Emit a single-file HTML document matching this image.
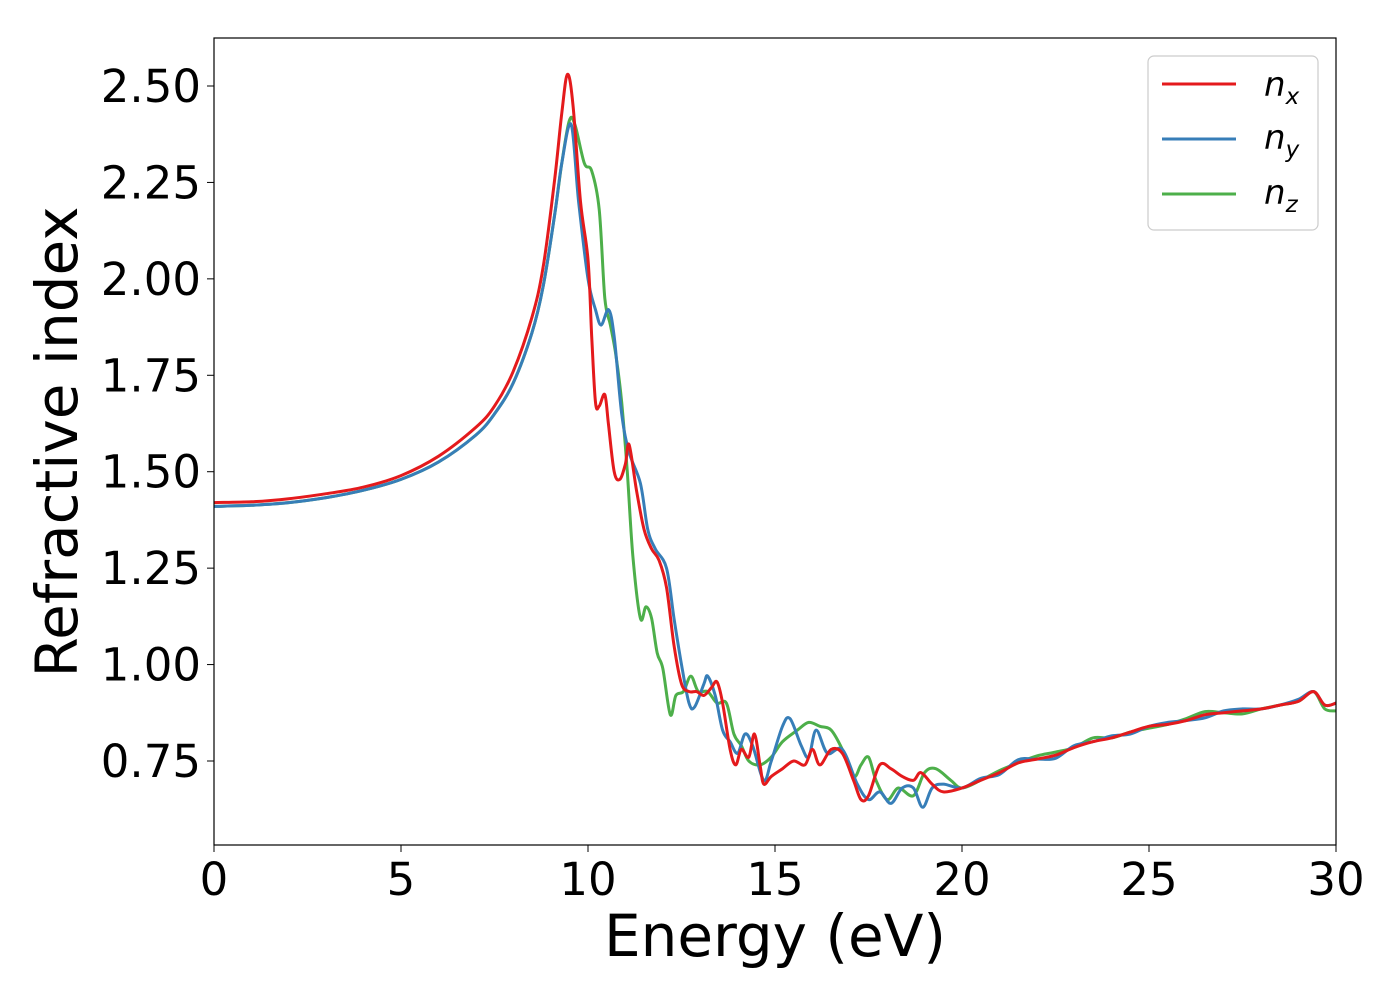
<!DOCTYPE html>
<html><head><meta charset="utf-8"><style>
html,body{margin:0;padding:0;background:#fff;}
svg text{font-family:"DejaVu Sans","Liberation Sans",sans-serif;}
</style></head><body>
<svg width="1400" height="1000" viewBox="0 0 1400 1000" xmlns="http://www.w3.org/2000/svg">
<g id="plot"></g>
<rect x="214" y="38" width="1122" height="807" fill="none" stroke="#000" stroke-width="1.2"/>
<g id="ticks"></g>
<text x="775" y="956" font-size="58" text-anchor="middle">Energy (eV)</text>
<text transform="translate(77,442) rotate(-90)" font-size="58" text-anchor="middle">Refractive index</text>
<g>
<rect x="1148" y="56" width="170" height="174" rx="6" fill="#fff" stroke="#ccc" stroke-width="1.2"/>
<line x1="1162" y1="84" x2="1236" y2="84" stroke="#e41a1c" stroke-width="3"/>
<text x="1264" y="96" font-size="34" font-style="italic">n<tspan font-size="23" dy="8">x</tspan></text>
<line x1="1162" y1="139" x2="1236" y2="139" stroke="#377eb8" stroke-width="3"/>
<text x="1264" y="149" font-size="34" font-style="italic">n<tspan font-size="23" dy="8">y</tspan></text>
<line x1="1162" y1="194" x2="1236" y2="194" stroke="#4daf4a" stroke-width="3"/>
<text x="1264" y="204" font-size="34" font-style="italic">n<tspan font-size="23" dy="8">z</tspan></text>
</g>
</svg>
<script>
const xTicks=[0,5,10,15,20,25,30];
const yTicks=[0.75,1.00,1.25,1.50,1.75,2.00,2.25,2.50];
const baseE=[0,1,2,3,4,5,6,7,7.5,8,8.5,8.8,9.1,9.3];
const nxBase=[1.42,1.422,1.43,1.443,1.46,1.49,1.54,1.615,1.67,1.76,1.90,2.03,2.25,2.43];
const nyzBase=[1.41,1.413,1.42,1.433,1.452,1.48,1.525,1.595,1.65,1.73,1.86,1.98,2.16,2.30];
const tailE=[20.5,21,21.5,22,22.5,23,23.5,24,24.5,25,25.5,26,26.5,27,27.5,28,28.5,29,29.4,29.7,30];
const tailV=[0.70,0.72,0.745,0.755,0.765,0.785,0.80,0.81,0.825,0.84,0.845,0.855,0.87,0.875,0.88,0.885,0.895,0.905,0.93,0.895,0.90];
const nxE=[9.45,9.6,9.8,10,10.1,10.2,10.3,10.45,10.55,10.7,10.85,11.0,11.1,11.3,11.5,11.7,11.9,12.1,12.3,12.5,12.7,12.9,13.1,13.3,13.45,13.6,13.8,13.95,14.1,14.3,14.45,14.6,14.7,14.9,15.2,15.5,15.8,16.0,16.2,16.5,16.8,17.1,17.3,17.5,17.8,18.1,18.4,18.7,18.9,19.2,19.5,20];
const nxV=[2.53,2.45,2.2,2.05,1.85,1.68,1.67,1.70,1.62,1.50,1.48,1.52,1.57,1.45,1.35,1.30,1.27,1.2,1.05,0.95,0.93,0.93,0.92,0.94,0.955,0.9,0.78,0.74,0.78,0.76,0.82,0.74,0.69,0.71,0.73,0.75,0.74,0.78,0.74,0.78,0.77,0.70,0.65,0.66,0.74,0.73,0.71,0.70,0.72,0.69,0.67,0.68];
const nyE=[9.55,9.75,10,10.2,10.35,10.55,10.7,10.9,11.1,11.4,11.6,11.8,12.1,12.3,12.5,12.7,12.85,13.1,13.2,13.4,13.6,13.8,14.0,14.2,14.4,14.7,14.9,15.2,15.4,15.7,15.9,16.1,16.4,16.8,17.2,17.5,17.8,18.1,18.4,18.7,18.95,19.2,19.5,20];
const nyV=[2.40,2.2,2.0,1.92,1.88,1.92,1.85,1.65,1.55,1.47,1.35,1.30,1.25,1.12,1.0,0.90,0.89,0.95,0.97,0.92,0.83,0.80,0.77,0.82,0.79,0.70,0.75,0.84,0.86,0.79,0.76,0.83,0.77,0.78,0.69,0.65,0.67,0.64,0.68,0.68,0.63,0.68,0.69,0.68];
const nzE=[9.5,9.65,9.9,10.1,10.3,10.45,10.6,10.75,10.9,11.05,11.2,11.4,11.55,11.7,11.85,12.0,12.2,12.35,12.55,12.75,12.95,13.2,13.45,13.7,13.9,14.1,14.3,14.6,14.9,15.2,15.6,15.9,16.2,16.5,16.8,17.1,17.3,17.5,17.7,18.0,18.3,18.7,19.0,19.3,19.7,20];
const nzV=[2.41,2.40,2.30,2.28,2.18,1.95,1.88,1.80,1.68,1.50,1.28,1.12,1.15,1.12,1.03,0.99,0.87,0.92,0.93,0.97,0.93,0.93,0.90,0.90,0.82,0.79,0.75,0.74,0.76,0.80,0.83,0.85,0.84,0.83,0.78,0.71,0.74,0.76,0.70,0.65,0.68,0.66,0.72,0.73,0.70,0.68];
const nyTailOffset=[0.005,-0.005,0.008,0,-0.008,0.005,0,0.005,-0.005,0,0.005,0,-0.008,0.005,0.005,0,0,0.005,0,0,0];
const nzTailOffset=[0,0.005,0,0.008,0.008,0,0.01,0,0,-0.005,0,0.005,0.008,0,-0.008,0,0,0,0,-0.01,-0.02];

const X=e=>214+e*(1122/30);
const Y=v=>761-(v-0.75)*(675/1.75);
const NS='http://www.w3.org/2000/svg';
function pathFrom(E,V){
  const p=E.map((e,i)=>[X(e),Y(V[i])]);
  let d='M'+p[0][0].toFixed(1)+','+p[0][1].toFixed(1);
  for(let i=0;i<p.length-1;i++){
    const p0=p[Math.max(0,i-1)],p1=p[i],p2=p[i+1],p3=p[Math.min(p.length-1,i+2)];
    const c1=[p1[0]+(p2[0]-p0[0])/6,p1[1]+(p2[1]-p0[1])/6];
    const c2=[p2[0]-(p3[0]-p1[0])/6,p2[1]-(p3[1]-p1[1])/6];
    d+=' C'+c1[0].toFixed(1)+','+c1[1].toFixed(1)+' '+c2[0].toFixed(1)+','+c2[1].toFixed(1)+' '+p2[0].toFixed(1)+','+p2[1].toFixed(1);
  }
  return d;
}
const plot=document.getElementById('plot');
const series=[
 ['nz-line','#4daf4a',baseE.concat(nzE,tailE),nyzBase.concat(nzV,tailV.map((v,i)=>v+nzTailOffset[i]))],
 ['ny-line','#377eb8',baseE.concat(nyE,tailE),nyzBase.concat(nyV,tailV.map((v,i)=>v+nyTailOffset[i]))],
 ['nx-line','#e41a1c',baseE.concat(nxE,tailE),nxBase.concat(nxV,tailV)]
];
series.forEach(s=>{
  const el=document.createElementNS(NS,'path');
  el.setAttribute('d',pathFrom(s[2],s[3]));
  el.setAttribute('fill','none');
  el.setAttribute('stroke',s[1]);
  el.setAttribute('stroke-width','3');
  
  
  plot.appendChild(el);
});
const tg=document.getElementById('ticks');
xTicks.forEach(t=>{
  const l=document.createElementNS(NS,'line');
  l.setAttribute('x1',X(t));l.setAttribute('x2',X(t));l.setAttribute('y1',845);l.setAttribute('y2',852);
  l.setAttribute('stroke','#000');
  
  
  tg.appendChild(l);
  const tx=document.createElementNS(NS,'text');
  tx.setAttribute('x',X(t));tx.setAttribute('y',895);tx.setAttribute('font-size','45');tx.setAttribute('text-anchor','middle');
  tx.textContent=t;
  
  
  tg.appendChild(tx);
});
yTicks.forEach(t=>{
  const l=document.createElementNS(NS,'line');
  l.setAttribute('x1',207);l.setAttribute('x2',214);l.setAttribute('y1',Y(t));l.setAttribute('y2',Y(t));
  l.setAttribute('stroke','#000');
  
  
  tg.appendChild(l);
  const tx=document.createElementNS(NS,'text');
  tx.setAttribute('x',201);tx.setAttribute('y',Y(t)+16);tx.setAttribute('font-size','45');tx.setAttribute('text-anchor','end');
  tx.textContent=t.toFixed(2);
  
  
  tg.appendChild(tx);
});
</script>
</body></html>
